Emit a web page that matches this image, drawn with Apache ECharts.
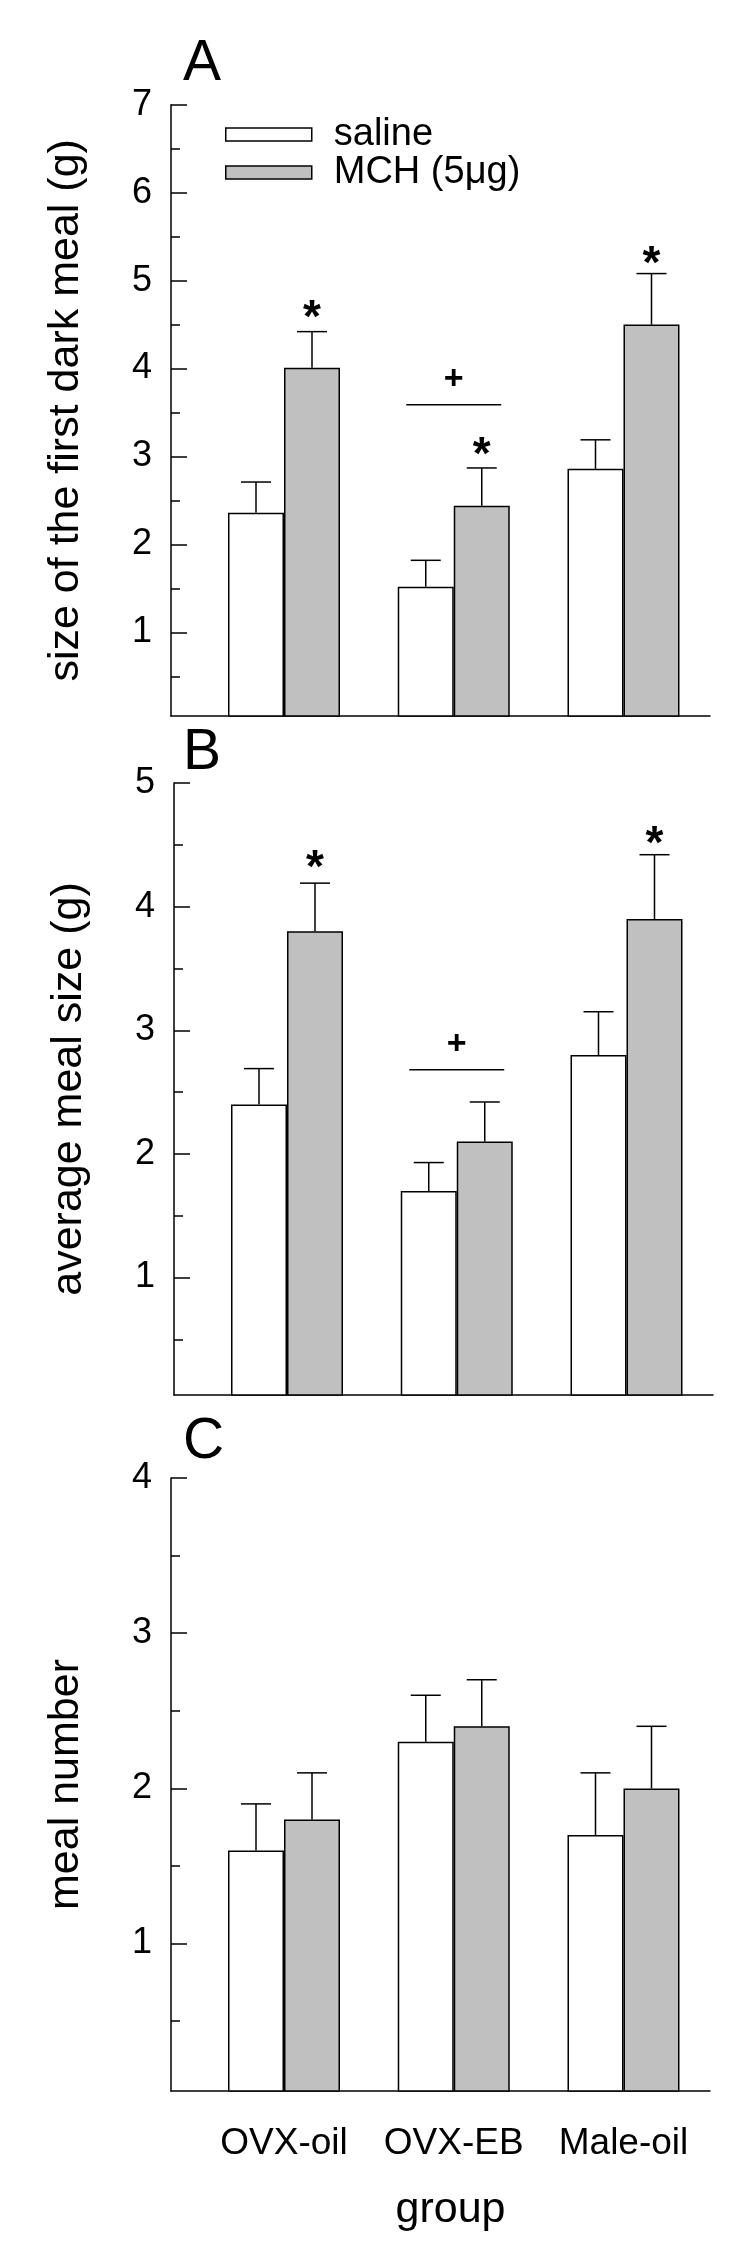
<!DOCTYPE html>
<html>
<head>
<meta charset="utf-8">
<script src="https://cdn.jsdelivr.net/npm/echarts@6/dist/echarts.min.js"></script>
<style>
  html, body { margin: 0; padding: 0; background: #fff; }
  #chart { width: 750px; height: 2267px; }
</style>
</head>
<body>
<div id="chart"></div>
<script>
// groups on the x axis
const groups = ['OVX-oil', 'OVX-EB', 'Male-oil'];

// A: size of the first dark meal (g)
const firstMealSaline = [2.36, 1.52, 2.86];
const firstMealSalineSem = [0.35, 0.30, 0.33];
const firstMealMch = [4.01, 2.44, 4.50];
const firstMealMchSem = [0.41, 0.43, 0.58];

// B: average meal size (g)
const avgMealSaline = [2.40, 1.70, 2.80];
const avgMealSalineSem = [0.29, 0.23, 0.35];
const avgMealMch = [3.80, 2.10, 3.90];
const avgMealMchSem = [0.39, 0.32, 0.52];

// C: meal number
const mealNumSaline = [1.6, 2.3, 1.7];
const mealNumSalineSem = [0.3, 0.3, 0.4];
const mealNumMch = [1.8, 2.4, 2.0];
const mealNumMchSem = [0.3, 0.3, 0.4];

// tick labels
const ticksA = [1, 2, 3, 4, 5, 6, 7];
const ticksB = [1, 2, 3, 4, 5];
const ticksC = [1, 2, 3, 4];

// significance marks: [symbol, group, bar (-1 saline, 1 MCH, 0 middle), y]
const marksA = [['*', 1, 1, 4.70], ['*', 2, 1, 3.14], ['*', 3, 1, 5.32], ['+', 2, 0, 3.88], ['-', 2, 0, 3.59]];
const marksB = [['*', 1, 1, 4.40], ['*', 3, 1, 4.60], ['+', 2, 0, 2.88], ['-', 2, 0, 2.68]];

const FONT = 'Liberation Sans, Arial, sans-serif';
const BAR_W = 56;
const X_MIN = 0.3343, X_MAX = 3.5096;
const Y_MIN = 0.05;

const chart = echarts.init(document.getElementById('chart'));

function halves(max) {
  const out = [];
  for (let v = 0.5; v < max; v += 1) out.push(v);
  return out;
}

function xAxis(gi, withLabels) {
  return {
    type: 'value', gridIndex: gi, min: X_MIN, max: X_MAX,
    axisLine: { show: true, onZero: false, lineStyle: { color: '#000', width: 1.5 } },
    axisTick: { show: false },
    splitLine: { show: false },
    axisLabel: withLabels ? {
      customValues: [1, 2, 3],
      formatter: v => groups[Math.round(v) - 1],
      color: '#000', fontFamily: FONT, fontSize: 37, lineHeight: 37, margin: 34
    } : { show: false },
    name: withLabels ? 'group' : '',
    nameLocation: 'middle', nameGap: 98,
    nameTextStyle: { color: '#000', fontFamily: FONT, fontSize: 43, lineHeight: 43, padding: [0, 0, 0, 20] }
  };
}

function yAxes(gi, max, ticks, title) {
  return [{
    type: 'value', gridIndex: gi, position: 'left', min: Y_MIN, max: max,
    axisLine: { show: true, onZero: false, lineStyle: { color: '#000', width: 1.5 } },
    axisTick: { show: true, inside: true, length: 16, customValues: ticks, lineStyle: { color: '#000', width: 1.5 } },
    axisLabel: { customValues: ticks, color: '#000', fontFamily: FONT, fontSize: 36, margin: 19 },
    splitLine: { show: false },
    name: title, nameLocation: 'middle', nameGap: 83,
    nameTextStyle: { color: '#000', fontFamily: FONT, fontSize: 43, lineHeight: 43 }
  }, {
    // minor ticks at the half units
    type: 'value', gridIndex: gi, position: 'left', offset: 0, min: Y_MIN, max: max,
    axisLine: { show: false, onZero: false },
    axisTick: { show: true, inside: true, length: 9, customValues: halves(max), lineStyle: { color: '#000', width: 1.5 } },
    axisLabel: { show: false },
    splitLine: { show: false }
  }];
}

function bars(gi, name, vals, color) {
  return {
    type: 'bar', name: name, xAxisIndex: gi, yAxisIndex: gi * 2,
    data: vals.map((v, i) => [i + 1, v]),
    barWidth: BAR_W, barGap: '0%',
    itemStyle: { color: color, borderColor: '#000', borderWidth: 1.5 },
    z: 2
  };
}

function errorBars(gi, saline, salineSem, mch, mchSem) {
  const rows = [];
  saline.forEach((v, i) => rows.push([i + 1, v, v + salineSem[i], -1]));
  mch.forEach((v, i) => rows.push([i + 1, v, v + mchSem[i], 1]));
  return {
    type: 'custom', xAxisIndex: gi, yAxisIndex: gi * 2, z: 3, silent: true,
    data: rows,
    renderItem: (params, api) => {
      const base = api.coord([api.value(0), api.value(1)]);
      const top = api.coord([api.value(0), api.value(2)]);
      const cx = base[0] + api.value(3) * BAR_W / 2;
      const st = { stroke: '#000', lineWidth: 1.5 };
      return {
        type: 'group', children: [
          { type: 'line', shape: { x1: cx, y1: base[1], x2: cx, y2: top[1] }, style: st },
          { type: 'line', shape: { x1: cx - 15, y1: top[1], x2: cx + 15, y2: top[1] }, style: st }
        ]
      };
    }
  };
}

function sigMarks(gi, marks) {
  return {
    type: 'custom', xAxisIndex: gi, yAxisIndex: gi * 2, z: 4, silent: true,
    data: marks.map(m => [m[1], m[3], m[2], m[0] === '*' ? 0 : m[0] === '+' ? 1 : 2]),
    renderItem: (params, api) => {
      const p = api.coord([api.value(0), api.value(1)]);
      const cx = p[0] + api.value(2) * BAR_W / 2;
      const kind = api.value(3);
      if (kind === 2) {
        return { type: 'line', shape: { x1: cx - 47.5, y1: p[1], x2: cx + 47.5, y2: p[1] }, style: { stroke: '#000', lineWidth: 1.5 } };
      }
      const star = kind === 0;
      const fs = star ? 46 : 34;
      return {
        type: 'text', x: cx, y: p[1] + (star ? 0.27 * fs : 0),
        style: { text: star ? '*' : '+', fill: '#000', align: 'center', verticalAlign: 'middle',
          fontFamily: FONT, fontSize: fs, fontWeight: 'bold' }
      };
    }
  };
}

const letterStyle = { color: '#000', fontFamily: FONT, fontSize: 57, fontWeight: 'normal', lineHeight: 57 };

const option = {
  animation: false,
  backgroundColor: '#fff',
  title: [
    { text: 'A', left: 183, top: 36, padding: 0, textStyle: letterStyle },
    { text: 'B', left: 183, top: 725, padding: 0, textStyle: letterStyle },
    { text: 'C', left: 183, top: 1414, padding: 0, textStyle: letterStyle }
  ],
  legend: {
    orient: 'vertical', left: 225, top: 115.5, padding: 0, itemGap: 0,
    itemWidth: 86, itemHeight: 13, icon: 'rect',
    textStyle: { color: '#000', fontFamily: FONT, fontSize: 38, lineHeight: 38, padding: [0, 0, 0, 17] },
    data: [
      { name: 'saline', itemStyle: { color: '#fff', borderColor: '#000', borderWidth: 1.5 } },
      { name: 'MCH (5μg)', itemStyle: { color: '#c0c0c0', borderColor: '#000', borderWidth: 1.5 } }
    ]
  },
  grid: [
    { left: 171, right: 40, top: 104.7, height: 611.3 },
    { left: 174, right: 37, top: 783, height: 612 },
    { left: 171, right: 40, top: 1478, height: 613 }
  ],
  xAxis: [xAxis(0, false), xAxis(1, false), xAxis(2, true)],
  yAxis: [
    ...yAxes(0, 7, ticksA, 'size of the first dark meal (g)'),
    ...yAxes(1, 5, ticksB, 'average meal size (g)'),
    ...yAxes(2, 4, ticksC, 'meal number')
  ],
  series: [
    bars(0, 'saline', firstMealSaline, '#fff'),
    bars(0, 'MCH (5μg)', firstMealMch, '#c0c0c0'),
    errorBars(0, firstMealSaline, firstMealSalineSem, firstMealMch, firstMealMchSem),
    sigMarks(0, marksA),
    bars(1, 'saline', avgMealSaline, '#fff'),
    bars(1, 'MCH (5μg)', avgMealMch, '#c0c0c0'),
    errorBars(1, avgMealSaline, avgMealSalineSem, avgMealMch, avgMealMchSem),
    sigMarks(1, marksB),
    bars(2, 'saline', mealNumSaline, '#fff'),
    bars(2, 'MCH (5μg)', mealNumMch, '#c0c0c0'),
    errorBars(2, mealNumSaline, mealNumSalineSem, mealNumMch, mealNumMchSem)
  ]
};

chart.setOption(option);
</script>
</body>
</html>
